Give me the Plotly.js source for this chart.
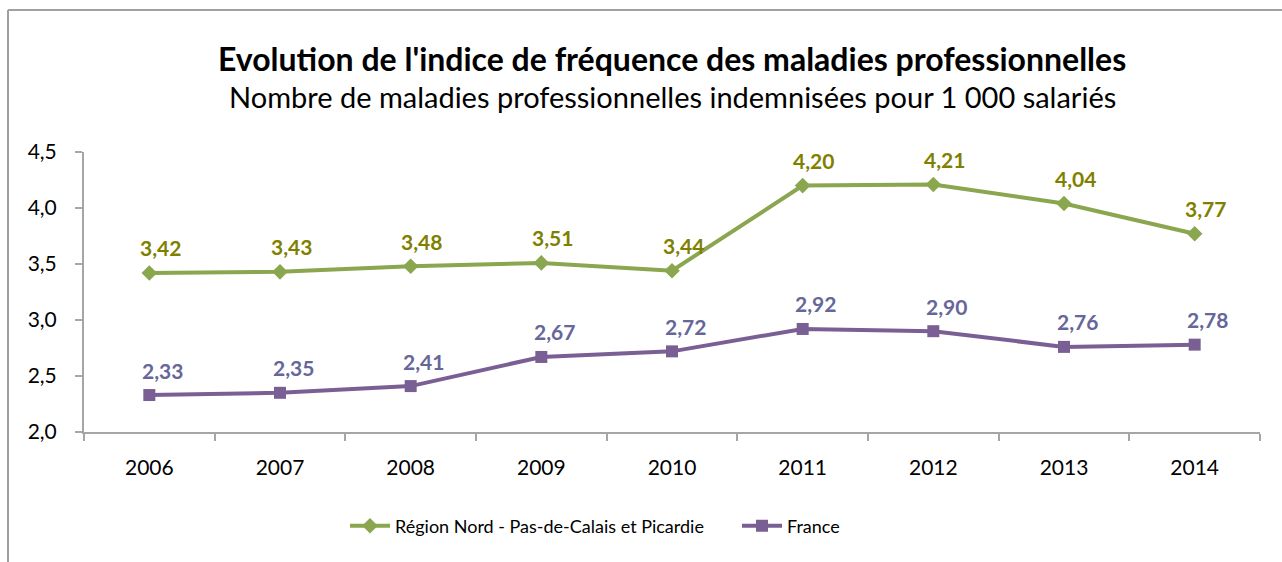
<!DOCTYPE html>
<html><head><meta charset="utf-8">
<script src="https://cdn.plot.ly/plotly-3.0.1.min.js"></script>
<style>html,body{margin:0;padding:0;background:#fff;}#chart{width:1282px;height:562px;}</style>
</head><body><div id="chart"></div>
<script>
const years = ['2006','2007','2008','2009','2010','2011','2012','2013','2014'];
const regionValues = [3.42, 3.43, 3.48, 3.51, 3.44, 4.20, 4.21, 4.04, 3.77];
const franceValues = [2.33, 2.35, 2.41, 2.67, 2.72, 2.92, 2.90, 2.76, 2.78];
const regionName = 'Région Nord - Pas-de-Calais et Picardie';
const franceName = 'France';
const titleText = "Evolution de l'indice de fréquence des maladies professionnelles";
const subtitleText = 'Nombre de maladies professionnelles indemnisées pour 1 000 salariés';

const FONT = 'Lato, "Open Sans", sans-serif';
const fmt = v => v.toFixed(2).replace('.', ',');

const traces = [
  {x: years, y: regionValues, name: regionName, type: 'scatter', mode: 'lines+markers',
   line: {color: '#8aa64e', width: 4}, marker: {symbol: 'diamond', size: 12, color: '#8aa64e'}},
  {x: years, y: franceValues, name: franceName, type: 'scatter', mode: 'lines+markers',
   line: {color: '#7a5f95', width: 4}, marker: {symbol: 'square', size: 12, color: '#7a5f95'}}
];

const annotations = [];
years.forEach((yr, i) => {
  annotations.push({xref: 'x', yref: 'y', x: i, y: regionValues[i], text: '<b>' + fmt(regionValues[i]) + '</b>', showarrow: false,
    xshift: 11, yshift: 25, font: {family: FONT, size: 21, color: '#7f7f00'}});
  annotations.push({xref: 'x', yref: 'y', x: i, y: franceValues[i], text: '<b>' + fmt(franceValues[i]) + '</b>', showarrow: false,
    xshift: 13, yshift: 25, font: {family: FONT, size: 21, color: '#66669a'}});
});
annotations.push({xref: 'paper', yref: 'paper', x: 0.5, y: 1.0, xanchor: 'center', yanchor: 'bottom',
  yshift: 72, text: '<b>' + titleText + '</b>', showarrow: false, font: {family: FONT, size: 32, color: '#000'}});
annotations.push({xref: 'paper', yref: 'paper', x: 0.5, y: 1.0, xanchor: 'center', yanchor: 'bottom',
  yshift: 36, text: subtitleText, showarrow: false, font: {family: FONT, size: 29, color: '#000'}});

const layout = {
  width: 1282, height: 562,
  margin: {l: 84, r: 22, t: 152, b: 130},
  paper_bgcolor: '#fff', plot_bgcolor: '#fff',
  font: {family: FONT, size: 18, color: '#000'},
  separators: ', ',
  showlegend: true,
  legend: {orientation: 'h', x: (345 - 84) / 1176, xanchor: 'left', y: -0.27, yanchor: 'top',
    font: {family: FONT, size: 18, color: '#000'}, traceorder: 'normal', itemwidth: 40,
    entrywidth: 337, entrywidthmode: 'pixels'},
  xaxis: {type: 'category', range: [-0.5, 8.5], showgrid: false, zeroline: false,
    showline: true, linecolor: '#a6a6a6', linewidth: 2,
    ticks: 'outside', tickson: 'boundaries', ticklen: 7, tickcolor: '#a6a6a6', tickwidth: 2,
    ticklabelstandoff: 16, tickfont: {family: FONT, size: 21, color: '#000'}, fixedrange: true},
  yaxis: {range: [2, 4.5], dtick: 0.5, tick0: 2, tickformat: '.1f', showgrid: false, zeroline: false,
    showline: true, linecolor: '#a6a6a6', linewidth: 2,
    ticks: 'outside', ticklen: 7, tickcolor: '#a6a6a6', tickwidth: 2,
    ticklabelstandoff: 14, tickfont: {family: FONT, size: 21, color: '#000'}, fixedrange: true},
  annotations: annotations,
  shapes: [
    {type: 'line', xref: 'paper', yref: 'paper', x0: (8 - 84) / 1176, x1: 1.2, y0: (432 - 10) / 280, y1: (432 - 10) / 280,
     line: {color: '#a0a0a0', width: 2}},
    {type: 'line', xref: 'paper', yref: 'paper', x0: (8 - 84) / 1176, x1: (8 - 84) / 1176, y0: (432 - 10) / 280, y1: -1,
     line: {color: '#a0a0a0', width: 2}}
  ]
};

Plotly.newPlot('chart', traces, layout, {displayModeBar: false, staticPlot: true});
</script></body></html>
